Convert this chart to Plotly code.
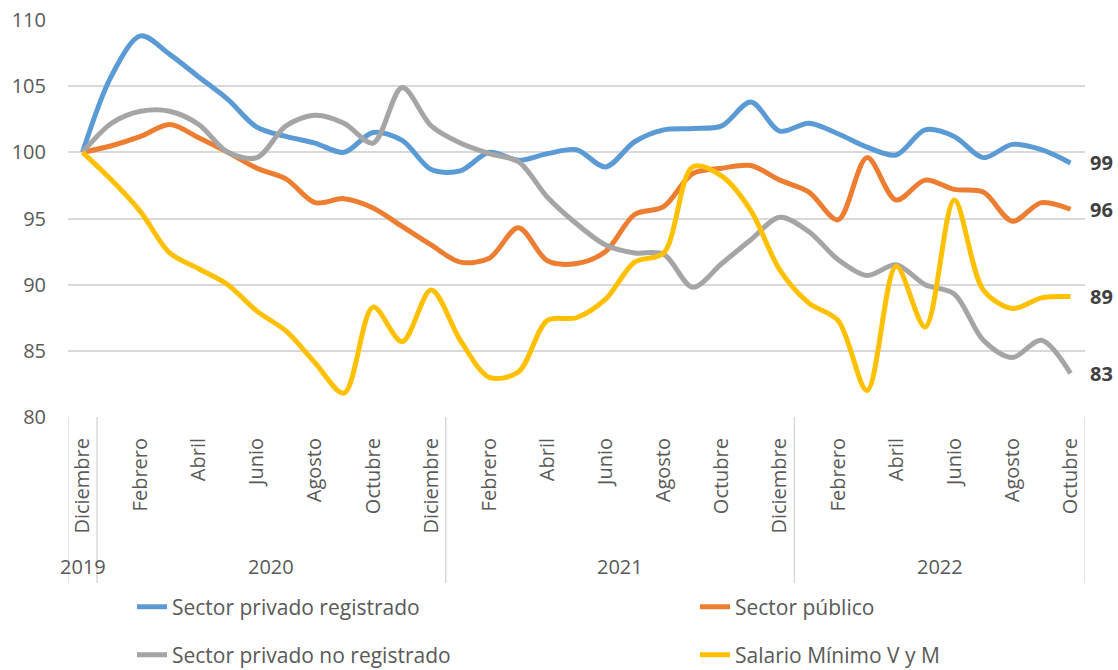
import plotly.graph_objects as go

# ---------------- data ----------------
month_names = ["Diciembre", "Enero", "Febrero", "Marzo", "Abril", "Mayo", "Junio",
               "Julio", "Agosto", "Septiembre", "Octubre", "Noviembre", "Diciembre",
               "Enero", "Febrero", "Marzo", "Abril", "Mayo", "Junio",
               "Julio", "Agosto", "Septiembre", "Octubre", "Noviembre", "Diciembre",
               "Enero", "Febrero", "Marzo", "Abril", "Mayo", "Junio",
               "Julio", "Agosto", "Septiembre", "Octubre"]
years = ["2019"] + ["2020"] * 12 + ["2021"] * 12 + ["2022"] * 10

privado_registrado = [100, 105.8, 108.8, 107.4, 105.7, 104.0, 101.9, 101.2, 100.7, 100.0,
                      101.5, 100.9, 98.7, 98.6, 100.0, 99.4, 99.9, 100.2, 98.9, 100.8,
                      101.7, 101.8, 102.0, 103.8, 101.6, 102.2, 101.4, 100.4, 99.8, 101.7,
                      101.2, 99.6, 100.6, 100.2, 99.2]
sector_publico = [100, 100.5, 101.2, 102.1, 101.1, 100.0, 98.8, 98.0, 96.2, 96.5,
                  95.8, 94.4, 93.0, 91.7, 92.0, 94.3, 91.8, 91.6, 92.5, 95.3,
                  95.9, 98.4, 98.8, 99.0, 97.9, 97.0, 94.9, 99.6, 96.4, 97.9,
                  97.2, 97.0, 94.8, 96.2, 95.7]
privado_no_registrado = [100, 102.2, 103.1, 103.1, 102.1, 100.0, 99.6, 102.0, 102.8, 102.2,
                         100.7, 104.9, 102.0, 100.7, 99.9, 99.3, 96.6, 94.6, 93.0, 92.4,
                         92.3, 89.8, 91.6, 93.4, 95.1, 94.0, 91.9, 90.7, 91.5, 90.0,
                         89.3, 85.8, 84.5, 85.8, 83.3]
salario_minimo = [100, 97.9, 95.5, 92.4, 91.2, 90.0, 88.0, 86.5, 84.1, 81.8,
                  88.3, 85.7, 89.6, 85.8, 83.0, 83.4, 87.3, 87.5, 88.9, 91.7,
                  92.4, 98.9, 98.2, 95.6, 91.1, 88.6, 87.3, 82.0, 91.4, 86.8,
                  96.4, 89.6, 88.2, 89.0, 89.1]

series_names = ["Sector privado registrado", "Sector público",
                "Sector privado no registrado", "Salario Mínimo V y M"]
series_values = [privado_registrado, sector_publico, privado_no_registrado, salario_minimo]
series_colors = ["#5B9BD5", "#ED7D31", "#A5A5A5", "#FFC000"]

y_ticks = [80, 85, 90, 95, 100, 105, 110]

# ---------------- figure ----------------
FONT = "Open Sans"
TXT = "#595959"
GRID = "#D9D9D9"
FS = 20

W, H = 1118, 670
L, R, T, B = 68, 33, 20, 253
plot_h = H - T - B
plot_w = W - L - R

x = list(range(len(month_names)))
fig = go.Figure()

legend_ids = ["legend", "legend2", "legend3", "legend4"]
for name, vals, col, lg in zip(series_names, series_values, series_colors, legend_ids):
    fig.add_trace(go.Scatter(
        x=x, y=vals, name=name, mode="lines", showlegend=True,
        line=dict(color=col, width=5, shape="spline", smoothing=0.9),
        legend=lg, hoverinfo="x+y+name"))

# end-of-series value labels
for vals in series_values:
    fig.add_annotation(x=x[-1], y=vals[-1], text="<b>%d</b>" % round(vals[-1]),
                       showarrow=False, xanchor="left", yanchor="middle", xshift=18,
                       font=dict(family=FONT, size=FS, color="#404040"))

# year group labels and dividers
def px_to_paper_y(py):
    return (H - B - py) / plot_h

groups = []
for i, yr in enumerate(years):
    if not groups or groups[-1][0] != yr:
        groups.append([yr, i, i])
    else:
        groups[-1][2] = i

div_bottom = px_to_paper_y(583)
boundaries = [groups[0][1] - 0.5] + [g[2] + 0.5 for g in groups]
for bx in boundaries:
    fig.add_shape(type="line", xref="x", yref="paper", x0=bx, x1=bx, y0=0, y1=div_bottom,
                  line=dict(color=GRID, width=1.5))
for yr, a, b in groups:
    fig.add_annotation(x=(a + b) / 2, y=px_to_paper_y(566), xref="x", yref="paper",
                       text=yr, showarrow=False, yanchor="middle",
                       font=dict(family=FONT, size=FS, color=TXT))

tickvals = [i for i in x if i % 2 == 0]
ticktext = [month_names[i] for i in tickvals]

fig.update_xaxes(range=[-0.5, len(x) - 0.5], tickvals=tickvals, ticktext=ticktext,
                 tickangle=-90, showgrid=False, zeroline=False, showline=False,
                 ticks="outside", ticklen=12, tickcolor="rgba(0,0,0,0)",
                 tickfont=dict(family=FONT, size=FS, color=TXT), automargin=False)
fig.update_yaxes(range=[80, 110], tickvals=y_ticks, showgrid=True, gridcolor=GRID,
                 gridwidth=1.5, zeroline=False, showline=False,
                 ticks="outside", ticklen=17, tickcolor="rgba(0,0,0,0)",
                 tickfont=dict(family=FONT, size=FS, color=TXT), automargin=False)

# legends: 2 x 2 layout
leg_x = [(132 - L) / plot_w, (695 - L) / plot_w]
leg_y = [px_to_paper_y(607), px_to_paper_y(655)]
pos = [(leg_x[0], leg_y[0]), (leg_x[1], leg_y[0]), (leg_x[0], leg_y[1]), (leg_x[1], leg_y[1])]
leg_layout = {}
for lg, (lx, ly) in zip(legend_ids, pos):
    leg_layout[lg] = dict(x=lx, y=ly, xanchor="left", yanchor="middle",
                          orientation="h", bgcolor="rgba(0,0,0,0)", visible=True,
                          font=dict(family=FONT, size=21, color=TXT))

fig.update_layout(width=W, height=H,
                  margin=dict(l=L, r=R, t=T, b=B, pad=0, autoexpand=False),
                  plot_bgcolor="white", paper_bgcolor="white", showlegend=True,
                  font=dict(family=FONT, color=TXT), **leg_layout)

fig.write_html("out.html", config={"displayModeBar": False},
               post_script="document.body.style.margin='0';document.body.style.overflow='hidden';")
